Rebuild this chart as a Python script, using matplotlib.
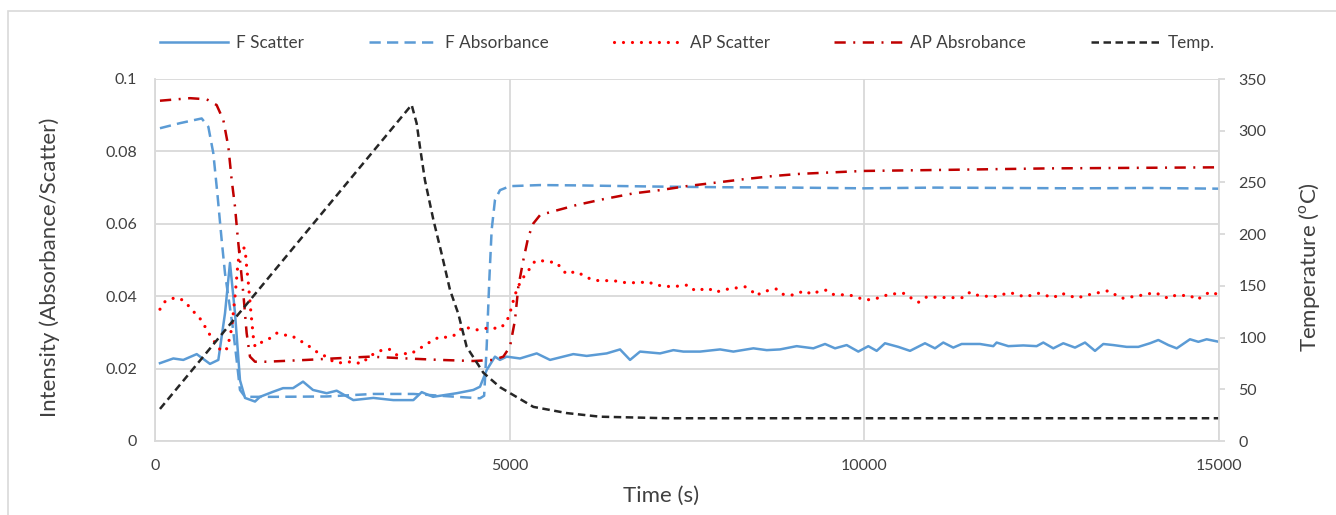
import matplotlib
matplotlib.use("Agg")
import matplotlib.pyplot as plt
from matplotlib.patches import Rectangle

# F Scatter (left axis)
f_scatter_t = [70, 258, 399, 588, 775, 893, 987, 1057, 1128, 1198, 1269, 1410, 1480, 1664,
               1805, 1946, 2087, 2227, 2420, 2561, 2796, 3078, 3360, 3642, 3760, 3920, 4253,
               4488, 4582, 4676, 4793, 4863, 4958, 5146, 5381, 5569, 5897, 6086, 6368, 6556,
               6697, 6838, 7120, 7308, 7449, 7684, 7966, 8154, 8436, 8624, 8811, 9046, 9281,
               9446, 9587, 9751, 9915, 10056, 10174, 10291, 10479, 10644, 10855, 10996, 11113,
               11254, 11372, 11630, 11818, 11865, 12030, 12241, 12429, 12523, 12664, 12805,
               12970, 13111, 13252, 13369, 13510, 13698, 13863, 14027, 14145, 14286, 14404,
               14591, 14709, 14826, 15000]
f_scatter = [0.0215, 0.0228, 0.0224, 0.0240, 0.0213, 0.0224, 0.0353, 0.0492, 0.0353, 0.0168,
             0.0119, 0.0109, 0.0122, 0.0136, 0.0146, 0.0146, 0.0164, 0.0141, 0.0132, 0.0139,
             0.0113, 0.0119, 0.0113, 0.0113, 0.0135, 0.0122, 0.0132, 0.0141, 0.0150, 0.0196,
             0.0233, 0.0224, 0.0233, 0.0228, 0.0242, 0.0224, 0.0240, 0.0235, 0.0242, 0.0253,
             0.0224, 0.0247, 0.0242, 0.0251, 0.0247, 0.0247, 0.0253, 0.0247, 0.0256, 0.0251,
             0.0253, 0.0262, 0.0256, 0.0268, 0.0256, 0.0265, 0.0247, 0.0262, 0.0249, 0.0270,
             0.0260, 0.0249, 0.0270, 0.0256, 0.0272, 0.0258, 0.0268, 0.0268, 0.0262, 0.0272,
             0.0262, 0.0264, 0.0262, 0.0272, 0.0256, 0.0270, 0.0258, 0.0272, 0.0249, 0.0268,
             0.0265, 0.0260, 0.0260, 0.0270, 0.0279, 0.0265, 0.0256, 0.0281, 0.0274, 0.0281,
             0.0274]

# F Absorbance (left axis)
f_abs_t = [70, 352, 658, 752, 822, 879, 940, 987, 1034, 1095, 1151, 1198, 1269, 1668, 2420,
           3078, 3642, 4253, 4582, 4640, 4676, 4713, 4746, 4793, 4864, 5005, 5428, 6000,
           7000, 8000, 9000, 10000, 11000, 12000, 13000, 14000, 15000]
f_abs = [0.0864, 0.0878, 0.0891, 0.0868, 0.0795, 0.0684, 0.0555, 0.0463, 0.0399, 0.0316,
         0.0224, 0.0141, 0.0122, 0.0122, 0.0123, 0.0130, 0.0130, 0.0122, 0.0118, 0.0125,
         0.0261, 0.0445, 0.0583, 0.0666, 0.0693, 0.0704, 0.0707, 0.0706, 0.0703, 0.0701,
         0.0700, 0.0698, 0.0700, 0.0699, 0.0698, 0.0699, 0.0697]

# AP Scatter (left axis)
ap_scatter_t = [70, 141, 235, 352, 446, 517, 611, 681, 728, 799, 869, 940, 1020, 1081, 1128,
                1165, 1198, 1269, 1292, 1316, 1349, 1386, 1410, 1457, 1527, 1621, 1715, 1809,
                1927, 2021, 2115, 2232, 2326, 2420, 2514, 2608, 2725, 2819, 2937, 3007, 3125,
                3219, 3313, 3407, 3501, 3595, 3712, 3806, 3924, 4018, 4135, 4229, 4347, 4441,
                4535, 4652, 4746, 4864, 4949, 4996, 5028, 5061, 5099, 5146, 5216, 5287, 5357,
                5451, 5545, 5663, 5733, 5804, 5921, 6029, 6133, 6250, 6462, 6603, 6814, 6955,
                7049, 7284, 7519, 7613, 7801, 7895, 8083, 8318, 8412, 8473, 8576, 8764, 8858,
                8976, 9164, 9257, 9351, 9469, 9563, 9798, 10009, 10127, 10362, 10573, 10667,
                10761, 10879, 11184, 11395, 11489, 11607, 11818, 12053, 12265, 12453, 12664,
                12782, 12993, 13205, 13440, 13627, 13862, 14098, 14285, 14379, 14591, 14685,
                14873, 14967]
ap_scatter = [0.0364, 0.0385, 0.0394, 0.0394, 0.0380, 0.0362, 0.0345, 0.0325, 0.0307, 0.0286,
              0.0265, 0.0247, 0.0256, 0.0311, 0.0399, 0.0481, 0.0537, 0.0532, 0.0481, 0.0436,
              0.0362, 0.0288, 0.0261, 0.0270, 0.0274, 0.0284, 0.0298, 0.0293, 0.0291, 0.0279,
              0.0270, 0.0253, 0.0240, 0.0233, 0.0219, 0.0216, 0.0219, 0.0215, 0.0216, 0.0233,
              0.0244, 0.0253, 0.0253, 0.0238, 0.0242, 0.0240, 0.0253, 0.0265, 0.0279, 0.0288,
              0.0286, 0.0293, 0.0316, 0.0311, 0.0307, 0.0311, 0.0312, 0.0311, 0.0327, 0.0348,
              0.0371, 0.0394, 0.0417, 0.0437, 0.0459, 0.0477, 0.0497, 0.0498, 0.0495, 0.0493,
              0.0475, 0.0461, 0.0468, 0.0459, 0.0448, 0.0443, 0.0443, 0.0438, 0.0437, 0.0440,
              0.0431, 0.0426, 0.0431, 0.0415, 0.0422, 0.0411, 0.0420, 0.0426, 0.0415, 0.0401,
              0.0413, 0.0420, 0.0405, 0.0403, 0.0415, 0.0405, 0.0413, 0.0417, 0.0405, 0.0403,
              0.0390, 0.0391, 0.0406, 0.0408, 0.0394, 0.0383, 0.0398, 0.0396, 0.0396, 0.0411,
              0.0402, 0.0398, 0.0410, 0.0398, 0.0408, 0.0396, 0.0408, 0.0395, 0.0406, 0.0415,
              0.0394, 0.0401, 0.0410, 0.0394, 0.0402, 0.0402, 0.0390, 0.0412, 0.0406]

# AP Absorbance (left axis)
ap_abs_t = [70, 494, 728, 869, 963, 1034, 1081, 1128, 1161, 1198, 1245, 1292, 1339, 1410,
            1574, 2138, 2514, 3031, 3548, 4018, 4488, 4770, 4911, 5005, 5075, 5122, 5193,
            5263, 5334, 5428, 5569, 5945, 6321, 6744, 7120, 7496, 7918, 8294, 8717, 9093,
            9986, 11161, 12570, 15000]
ap_abs = [0.0940, 0.0947, 0.0944, 0.0928, 0.0887, 0.0813, 0.0721, 0.0647, 0.0574, 0.0500,
          0.0408, 0.0298, 0.0233, 0.0219, 0.0219, 0.0224, 0.0228, 0.0233, 0.0228, 0.0224,
          0.0221, 0.0224, 0.0233, 0.0261, 0.0334, 0.0426, 0.0500, 0.0564, 0.0601, 0.0624,
          0.0632, 0.0652, 0.0668, 0.0684, 0.0693, 0.0704, 0.0714, 0.0723, 0.0732, 0.0738,
          0.0746, 0.0749, 0.0753, 0.0756]

# Temperature (right axis)
temp_t = [70, 3618, 3689, 3736, 3806, 3924, 4041, 4159, 4276, 4394, 4629, 4864, 5334, 5804,
          6273, 7213, 15000]
temp = [31, 325, 307, 284, 252, 214, 181, 146, 123, 91, 66, 52, 33, 27, 23.5, 22, 22]

BLUE = "#5B9BD5"
RED = "#FF0000"
DARKRED = "#C00000"
BLACK = "#262626"
GRID = "#D9D9D9"
TXT = "#404040"

plt.rcParams["font.family"] = ["Lato", "DejaVu Sans"]
plt.rcParams["mathtext.fontset"] = "custom"
plt.rcParams["mathtext.rm"] = "Lato"

W, H = 1336, 515
fig = plt.figure(figsize=(W / 100, H / 100), dpi=100)
ax = fig.add_axes([155 / W, 1 - 441 / H, (1219 - 155) / W, (441 - 79) / H])
ax2 = ax.twinx()

lw = 1.8
l1, = ax.plot(f_scatter_t, f_scatter, color=BLUE, lw=lw, label="F Scatter")
l2, = ax.plot(f_abs_t, f_abs, color=BLUE, lw=lw, linestyle=(0, (4.5, 2.5)), label="F Absorbance")
l3, = ax.plot(ap_scatter_t, ap_scatter, color=RED, lw=2.3, linestyle=(0, (0.01, 2.8)),
              dash_capstyle="round", label="AP Scatter")
l4, = ax.plot(ap_abs_t, ap_abs, color=DARKRED, lw=lw, linestyle=(0, (4.5, 3, 0.8, 3)),
              label="AP Absrobance")
l5, = ax2.plot(temp_t, temp, color=BLACK, lw=lw, linestyle=(0, (3, 1.8)), label="Temp.")

ax.set_xlim(0, 15000)
ax.set_ylim(0, 0.1)
ax2.set_ylim(0, 350)
ax.set_xticks([0, 5000, 10000, 15000])
ax.set_xticklabels(["0", "5000", "10000", "15000"])
ax.set_yticks([0, 0.02, 0.04, 0.06, 0.08, 0.1])
ax.set_yticklabels(["0", "0.02", "0.04", "0.06", "0.08", "0.1"])
ax2.set_yticks(range(0, 351, 50))

ax.grid(True, color=GRID, lw=1.3)
ax.set_axisbelow(True)
for s in ["top", "right"]:
    ax.spines[s].set_visible(False)
for s in ["left", "bottom"]:
    ax.spines[s].set_color(GRID)
    ax.spines[s].set_linewidth(1.3)
for s in ["top", "left", "bottom"]:
    ax2.spines[s].set_visible(False)
ax2.spines["right"].set_color(GRID)
ax2.spines["right"].set_linewidth(1.3)

ax.tick_params(axis="both", length=0, labelsize=11.5, labelcolor=TXT)
ax.tick_params(axis="y", pad=13)
ax.tick_params(axis="x", pad=13)
ax2.tick_params(axis="y", length=4, width=1.3, color=GRID, labelsize=11.5, labelcolor=TXT, pad=10)

ax.set_xlabel("Time (s)", fontsize=16, color=TXT)
ax.set_ylabel("Intensity (Absorbance/Scatter)", fontsize=16, color=TXT)
ax2.set_ylabel(r"Temperature ($^{\mathrm{o}}$C)", fontsize=16, color=TXT)
ax.xaxis.set_label_coords((661 - 155) / 1064, -(496 - 441) / 362)
ax.yaxis.set_label_coords(-(155 - 50) / 1064, (441 - 267) / 362)
ax2.yaxis.set_label_coords((1310 - 155) / 1064, (441 - 267) / 362)
ax.xaxis.label.set_va("center")
ax.yaxis.label.set_va("center")
ax2.yaxis.label.set_va("center")

fig.legend(handles=[l1, l2, l3, l4, l5], loc="center left", bbox_to_anchor=(160 / W, 1 - 43 / H),
           ncol=5, frameon=False, fontsize=12.3, handlelength=4.0, handletextpad=0.45,
           columnspacing=3.8, labelcolor=TXT, borderaxespad=0, borderpad=0)

# outer chart border
fig.patches.append(Rectangle((8 / W, -0.1), 1.1, 1 - 11 / H + 0.1, transform=fig.transFigure,
                             fill=False, edgecolor=GRID, lw=1.2))

fig.savefig("out.png", dpi=100)
